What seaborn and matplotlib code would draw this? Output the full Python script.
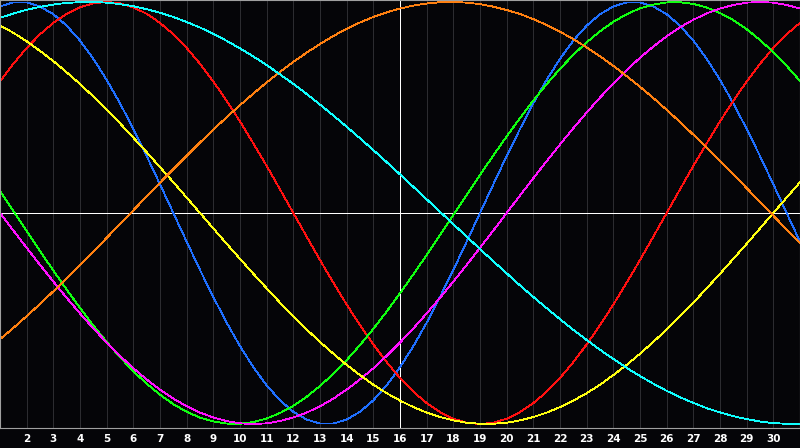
import pandas as pd
import seaborn as sns
import matplotlib
matplotlib.use("Agg")
import matplotlib.pyplot as plt

# day of month, every half day from 1 to 31
days = [h / 2 for h in range(2, 63)]

# cycle values in percent, every half day
physical = [97.9, 99.8, 99.8, 97.9, 94.2, 88.8, 81.7, 73.1, 63.1, 52.0,
            39.8, 27.0, 13.6, 0.0, -13.6, -27.0, -39.8, -52.0, -63.1, -73.1,
            -81.7, -88.8, -94.2, -97.9, -99.8, -99.8, -97.9, -94.2, -88.8, -81.7,
            -73.1, -63.1, -52.0, -39.8, -27.0, -13.6, 0.0, 13.6, 27.0, 39.8,
            52.0, 63.1, 73.1, 81.7, 88.8, 94.2, 97.9, 99.8, 99.8, 97.9,
            94.2, 88.8, 81.7, 73.1, 63.1, 52.0, 39.8, 27.0, 13.6, 0.0, -13.6]
emotional = [62.3, 70.7, 78.2, 84.7, 90.1, 94.4, 97.5, 99.4, 100.0, 99.4,
             97.5, 94.4, 90.1, 84.7, 78.2, 70.7, 62.3, 53.2, 43.4, 33.0,
             22.3, 11.2, 0.0, -11.2, -22.3, -33.0, -43.4, -53.2, -62.3, -70.7,
             -78.2, -84.7, -90.1, -94.4, -97.5, -99.4, -100.0, -99.4, -97.5, -94.4,
             -90.1, -84.7, -78.2, -70.7, -62.3, -53.2, -43.4, -33.0, -22.3, -11.2,
             0.0, 11.2, 22.3, 33.0, 43.4, 53.2, 62.3, 70.7, 78.2, 84.7, 90.1]
intellectual = [10.5, 1.0, -8.6, -18.0, -27.3, -36.3, -45.0, -53.3, -61.1, -68.3,
                -75.0, -80.9, -86.1, -90.6, -94.2, -97.0, -98.8, -99.8, -99.9, -99.1,
                -97.4, -94.8, -91.4, -87.1, -82.0, -76.2, -69.7, -62.6, -54.9, -46.7,
                -38.0, -29.1, -19.9, -10.5, -1.0, 8.6, 18.0, 27.3, 36.3, 45.0,
                53.3, 61.1, 68.3, 75.0, 80.9, 86.1, 90.6, 94.2, 97.0, 98.8,
                99.8, 99.9, 99.1, 97.4, 94.8, 91.4, 87.1, 82.0, 76.2, 69.7, 62.6]
intuitive = [0.0, -8.3, -16.5, -24.6, -32.5, -40.2, -47.6, -54.7, -61.4, -67.7,
             -73.6, -78.9, -83.7, -88.0, -91.6, -94.6, -96.9, -98.6, -99.7, -100.0,
             -99.7, -98.6, -96.9, -94.6, -91.6, -88.0, -83.7, -78.9, -73.6, -67.7,
             -61.4, -54.7, -47.6, -40.2, -32.5, -24.6, -16.5, -8.3, 0.0, 8.3,
             16.5, 24.6, 32.5, 40.2, 47.6, 54.7, 61.4, 67.7, 73.6, 78.9,
             83.7, 88.0, 91.6, 94.6, 96.9, 98.6, 99.7, 100.0, 99.7, 98.6, 96.9]
aesthetic = [88.9, 85.4, 81.4, 76.8, 72.0, 66.7, 61.1, 55.2, 48.9, 42.5,
             35.7, 28.8, 21.7, 14.6, 7.3, 0.0, -7.3, -14.6, -21.7, -28.8,
             -35.7, -42.5, -48.9, -55.2, -61.1, -66.7, -72.0, -76.8, -81.4, -85.4,
             -88.9, -92.0, -94.6, -96.7, -98.3, -99.4, -99.9, -99.9, -99.4, -98.3,
             -96.7, -94.6, -92.0, -88.9, -85.4, -81.4, -76.8, -72.0, -66.7, -61.1,
             -55.2, -48.9, -42.5, -35.7, -28.8, -21.7, -14.6, -7.3, 0.0, 7.3, 14.6]
awareness = [-59.8, -54.5, -48.9, -43.1, -37.1, -30.9, -24.6, -18.2, -11.8, -5.2,
             1.3, 7.8, 14.4, 20.8, 27.1, 33.4, 39.5, 45.4, 51.1, 56.6,
             61.9, 66.9, 71.6, 76.0, 80.1, 83.9, 87.3, 90.3, 92.9, 95.1,
             96.9, 98.3, 99.3, 99.9, 100.0, 99.7, 99.0, 97.8, 96.2, 94.3,
             91.9, 89.1, 85.9, 82.4, 78.5, 74.3, 69.7, 64.9, 59.8, 54.5,
             48.9, 43.1, 37.1, 30.9, 24.6, 18.2, 11.8, 5.2, -1.3, -7.8, -14.4]
spiritual = [92.5, 94.5, 96.3, 97.7, 98.8, 99.6, 99.9, 100.0, 99.7, 99.0,
             98.0, 96.6, 94.9, 92.9, 90.5, 87.9, 84.9, 81.6, 78.0, 74.2,
             70.1, 65.7, 61.2, 56.4, 51.4, 46.2, 40.9, 35.4, 29.8, 24.1,
             18.3, 12.4, 6.5, 0.6, -5.3, -11.2, -17.1, -22.9, -28.6, -34.3,
             -39.8, -45.1, -50.3, -55.4, -60.2, -64.8, -69.2, -73.4, -77.3, -80.9,
             -84.3, -87.3, -90.0, -92.5, -94.5, -96.3, -97.7, -98.8, -99.6, -99.9, -100.0]

series = {
    "physical": physical,
    "emotional": emotional,
    "intellectual": intellectual,
    "intuitive": intuitive,
    "aesthetic": aesthetic,
    "awareness": awareness,
    "spiritual": spiritual,
}
colors = {
    "physical": "#1f6fff",
    "emotional": "#ff1010",
    "intellectual": "#10ff10",
    "intuitive": "#ff10ff",
    "aesthetic": "#ffff10",
    "awareness": "#ff8010",
    "spiritual": "#10ffff",
}

df = pd.concat(
    [pd.DataFrame({"day": days, "value": vals, "cycle": name}) for name, vals in series.items()],
    ignore_index=True,
)

sns.set_style("dark", {"axes.facecolor": "#050508", "figure.facecolor": "#050508"})
plt.rcParams['font.family'] = ['DejaVu Sans']

fig = plt.figure(figsize=(8, 4.48), dpi=100)
ax = fig.add_axes([0, 20 / 448, 1, 428 / 448])

# day grid
for d in range(2, 31):
    ax.axvline(d, color="#2c2c30", lw=0.7, zorder=0, antialiased=False)

ax.axhline(0, color="white", lw=0.7, zorder=1, antialiased=False)
ax.axvline(16, color="white", lw=0.7, zorder=1, antialiased=False)

sns.lineplot(data=df, x="day", y="value", hue="cycle", palette=colors,
             ax=ax, legend=False, linewidth=0.6, zorder=2, antialiased=False)

ax.set_xlim(1, 31)
ax.set_ylim(-101.9, 100.95)
ax.set_xticks(range(2, 31))
ax.set_xticklabels([str(d) for d in range(2, 31)])
ax.set_yticks([])
ax.set_xlabel("")
ax.set_ylabel("")
ax.tick_params(axis="x", length=0, pad=4, labelsize=7.5, labelcolor="white")
for lab in ax.get_xticklabels():
    lab.set_fontweight("bold")
ax.grid(False)
for sp in ax.spines.values():
    sp.set_visible(True)
    sp.set_color("#a0a0a0")
    sp.set_linewidth(0.8)

fig.savefig("out.png", dpi=100, facecolor="#050508")
